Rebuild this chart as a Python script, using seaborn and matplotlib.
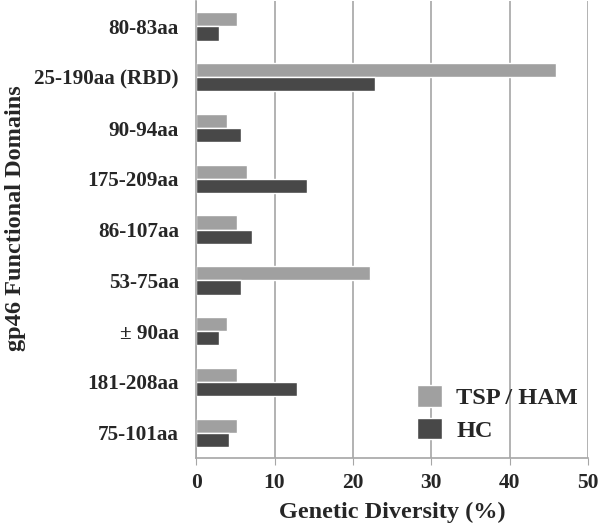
import matplotlib
matplotlib.use("Agg")
import matplotlib.pyplot as plt
import seaborn as sns
import pandas as pd

# ===================== data =====================
domains = ["80-83aa", "25-190aa (RBD)", "90-94aa", "175-209aa", "86-107aa",
           "53-75aa", "\u00b1 90aa", "181-208aa", "75-101aa"]
tsp_ham = [5.2, 45.9, 3.9, 6.5, 5.2, 22.2, 3.9, 5.2, 5.2]
hc = [2.9, 22.8, 5.7, 14.2, 7.1, 5.7, 2.9, 12.8, 4.2]
groups = ["TSP / HAM", "HC"]
colors = ["#a0a0a0", "#484848"]

df = pd.DataFrame({
    "domain": domains * 2,
    "value": tsp_ham + hc,
    "group": [groups[0]] * len(domains) + [groups[1]] * len(domains),
})

# ===================== plot =====================
sns.set_style("white")
plt.rcParams["font.family"] = ["Liberation Serif", "DejaVu Serif"]
plt.rcParams["font.weight"] = "bold"

fig = plt.figure(figsize=(6, 5.26), dpi=100)
ax = fig.add_axes([0.327, 0.129, 0.653, 0.869])

sns.barplot(data=df, x="value", y="domain", hue="group", hue_order=groups,
            order=domains, palette=colors, orient="h", width=0.56,
            saturation=1, ax=ax)

ax.set_xlim(0, 50)
ax.set_xticks(range(0, 51, 10))
ax.xaxis.grid(True, color="#a6a6a6", linewidth=1.2)
ax.set_axisbelow(True)

for side in ["top", "right"]:
    ax.spines[side].set_visible(False)
for side in ["left", "bottom"]:
    ax.spines[side].set_color("#a6a6a6")
    ax.spines[side].set_linewidth(1.2)

ax.tick_params(axis="x", bottom=True, length=5, color="#a6a6a6",
               labelsize=15.5, pad=6)
ax.tick_params(axis="y", left=False, labelsize=15.2, pad=9)
for lbl in ax.get_xticklabels() + ax.get_yticklabels():
    lbl.set_fontweight("bold")

ax.set_xlabel("Genetic Diversity (%)", fontsize=17.5, fontweight="bold", labelpad=6)
ax.set_ylabel("gp46 Functional Domains", fontsize=17.5, fontweight="bold")
ax.yaxis.set_label_coords(-0.435, 0.525)

leg = ax.legend(loc="lower right", bbox_to_anchor=(1.03, -0.012), frameon=False,
                fontsize=17.5, handlelength=1.0, handleheight=1.0,
                handletextpad=0.6, labelspacing=0.35)
for t in leg.get_texts():
    t.set_fontweight("bold")

fig.savefig("out.png", dpi=100)
